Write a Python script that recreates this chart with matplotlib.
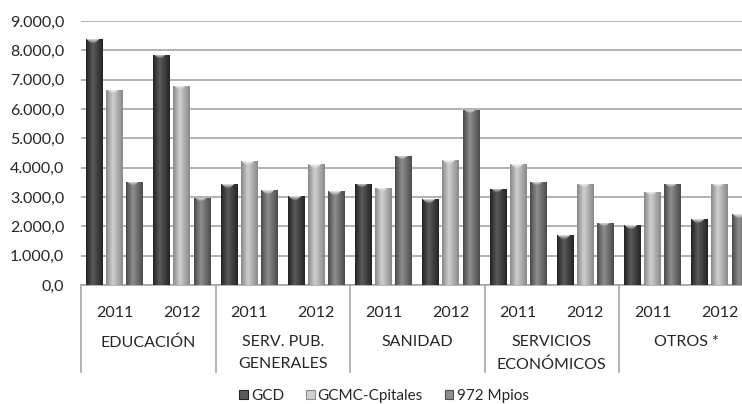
import matplotlib
matplotlib.use('Agg')
import matplotlib.pyplot as plt
import numpy as np
from matplotlib.colors import LinearSegmentedColormap
from matplotlib.patches import Patch
from matplotlib.ticker import FuncFormatter, MultipleLocator

categories = ['EDUCACIÓN', 'SERV. PUB.\nGENERALES', 'SANIDAD', 'SERVICIOS\nECONÓMICOS', 'OTROS *']
years = ['2011', '2012']
series = ['GCD', 'GCMC-Cpitales', '972 Mpios']
gcd = [8370, 7850, 3440, 3030, 3460, 2920, 3280, 1700, 2040, 2240]
gcmc = [6660, 6800, 4220, 4120, 3310, 4260, 4110, 3460, 3180, 3460]
mpios = [3520, 2970, 3230, 3200, 4410, 5980, 3520, 2120, 3450, 2410]

plt.rcParams['font.family'] = ['Lato', 'DejaVu Sans']
txt = '#262626'
grid_c = '#a6a6a6'

fig = plt.figure(figsize=(7.42, 4.04), dpi=100)
W, H = 742, 404
ax = fig.add_axes([81 / W, 1 - 285 / H, 672.5 / W, 264 / H])

# (dark edge, light centre) per series
shades = [('#262626', '#5a5a5a'), ('#8c8c8c', '#cfcfcf'), ('#4e4e4e', '#8e8e8e')]
offsets = [-0.3, 0.0, 0.3]
x = np.arange(len(gcd)) + 0.5
px = 9000 / 264  # data units per pixel

def shade(bars, dark, light):
    cmap = LinearSegmentedColormap.from_list('c', [(0, dark), (0.4, light), (1, dark)])
    prof = np.concatenate([np.linspace(0, 0.4, 7), np.linspace(0.4, 1, 10)[1:]])
    for b in bars:
        x0, w, h = b.get_x(), b.get_width(), b.get_height()
        rows = max(int(h / px), 6)
        rgba = cmap(np.tile(prof, (rows, 1)))
        # light cap at the top of the bar
        for r in range(4):
            k = (4 - r) / 4 * 0.75
            c = np.abs(np.arange(len(prof)) - 6) <= (5 - r)
            rgba[r, c, :3] = rgba[r, c, :3] * (1 - k) + k
        im = ax.imshow(rgba, extent=[x0, x0 + w, 0, h], aspect='auto',
                       zorder=3, interpolation='bilinear')
        im.set_clip_path(b)

for vals, off, (dark, light) in zip([gcd, gcmc, mpios], offsets, shades):
    bars = ax.bar(x + off, vals, width=0.25, color=light, zorder=2, linewidth=0)
    shade(bars, dark, light)

ax.set_xlim(0, 10)
ax.set_ylim(0, 9000)
ax.yaxis.set_major_locator(MultipleLocator(1000))
ax.yaxis.set_major_formatter(FuncFormatter(
    lambda v, p: f'{v:,.1f}'.replace(',', 'X').replace('.', ',').replace('X', '.')))
ax.grid(axis='y', color=grid_c, linewidth=1.2, zorder=0)
ax.set_axisbelow(True)
for s in ['left', 'right', 'top']:
    ax.spines[s].set_visible(False)
ax.spines['bottom'].set_color(grid_c)
ax.spines['bottom'].set_linewidth(1.2)
ax.set_xticks([])
ax.tick_params(axis='y', length=0, pad=12, labelsize=11.5, labelcolor=txt)

tr = ax.get_xaxis_transform()
for i in range(len(gcd)):
    ax.text(i + 0.5, -0.105, years[i % 2], transform=tr, ha='center', va='center',
            fontsize=11.5, color=txt)
for j, c in enumerate(categories):
    ax.text(2 * j + 1, -0.19, c, transform=tr, ha='center', va='top',
            fontsize=11.5, color=txt, linespacing=1.7)
for j in range(len(categories) + 1):
    ax.plot([2 * j, 2 * j], [0, -0.33], transform=tr, color=grid_c,
            linewidth=1.2, clip_on=False)

handles = [Patch(facecolor=l, edgecolor=d, linewidth=0.8) for d, l in shades]
fig.legend(handles, series, loc='center', bbox_to_anchor=(384 / W, 1 - 396 / H),
           ncol=3, frameon=False, fontsize=11, handlelength=0.55, handleheight=0.55,
           handletextpad=0.2, columnspacing=1.45, labelcolor=txt)

fig.savefig('out.png', dpi=100)
